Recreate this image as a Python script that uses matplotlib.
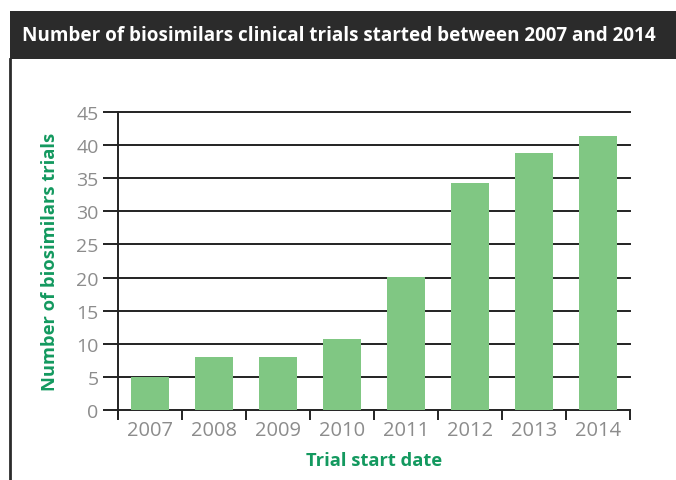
import matplotlib
matplotlib.use("Agg")
import matplotlib.pyplot as plt
import numpy as np
from matplotlib.patches import Rectangle
from matplotlib.lines import Line2D

# dados
anos = ["2007", "2008", "2009", "2010", "2011", "2012", "2013", "2014"]
ensaios = [5.0, 8.0, 8.0, 10.7, 20.1, 34.3, 38.8, 41.4]
y_ticks = [0, 5, 10, 15, 20, 25, 30, 35, 40, 45]

titulo = "Number of biosimilars clinical trials started between 2007 and 2014"
verde_barra = "#80c783"
verde_texto = "#13995f"
cinza = "#8c8c8c"

fig = plt.figure(figsize=(6.76, 4.81), dpi=100)
fig.patch.set_facecolor("white")

# faixa escura do título
fig.patches.append(Rectangle((10 / 676, 1 - 60 / 481), 1, 48 / 481,
                             transform=fig.transFigure, facecolor="#2b2b2b",
                             edgecolor="none", zorder=0))
fig.text(22 / 676, 1 - 36 / 481, titulo, color="white", fontsize=13.6,
         fontweight="bold", va="center", ha="left", family="Open Sans")
# linha da borda esquerda
fig.lines.append(Line2D([10 / 676, 10 / 676], [0, 1 - 60 / 481],
                        transform=fig.transFigure, color="#2b2b2b", lw=2))

ax = fig.add_axes([118 / 676, 1 - 411 / 481, 512 / 676, 298 / 481])
x = np.arange(len(anos))
ax.bar(x, ensaios, width=0.6, color=verde_barra, zorder=3)

ax.set_xlim(-0.5, len(anos) - 0.5)
ax.set_ylim(0, 45)
ax.set_yticks(y_ticks)
ax.set_yticklabels([str(v) for v in y_ticks], color=cinza, fontsize=14,
                   family="Open Sans")
ax.set_xticks(x)
ax.set_xticklabels(anos, color=cinza, fontsize=14.5, family="Open Sans")
ax.set_xticks(np.arange(len(anos) + 1) - 0.5, minor=True)

for v in y_ticks:
    ax.axhline(v, color="#222222", lw=1.4, zorder=1, clip_on=False)

ax.tick_params(axis="y", direction="out", length=11, width=1.4,
               color="#222222", pad=3)
ax.tick_params(axis="x", which="major", length=0, pad=7)
ax.tick_params(axis="x", which="minor", direction="out", length=7,
               width=1.4, color="#222222")

for s in ["top", "right", "bottom"]:
    ax.spines[s].set_visible(False)
ax.spines["left"].set_color("#222222")
ax.spines["left"].set_linewidth(1.4)
ax.spines["left"].set_bounds(-1.2, 45)
ax.spines["left"].set_zorder(4)

ax.set_xlabel("Trial start date", color=verde_texto, fontsize=13.2,
              fontweight="bold", family="Open Sans", labelpad=8)
ax.set_ylabel("Number of biosimilars trials", color=verde_texto, fontsize=13.2,
              fontweight="bold", family="Open Sans", labelpad=12)

fig.savefig("out.png", dpi=100)
